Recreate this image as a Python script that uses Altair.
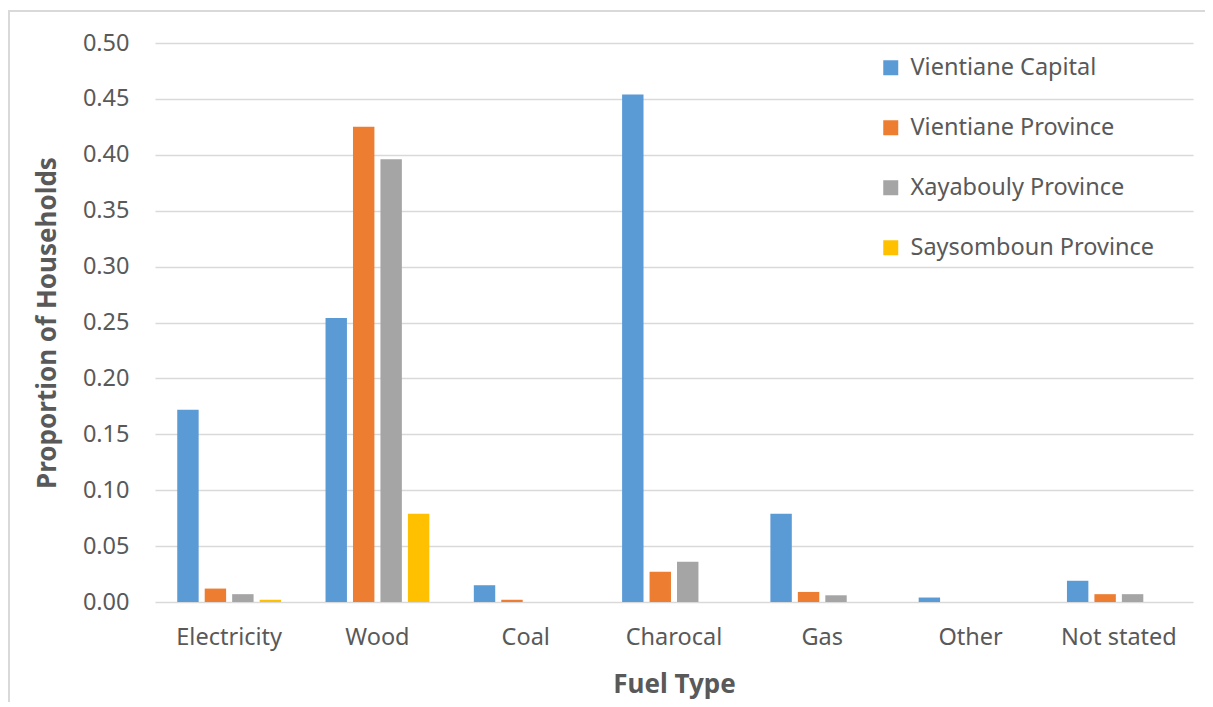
import altair as alt
import pandas as pd

categories = ["Electricity", "Wood", "Coal", "Charocal", "Gas", "Other", "Not stated"]
series = ["Vientiane Capital", "Vientiane Province", "Xayabouly Province", "Saysomboun Province"]
vientiane_capital = [0.172, 0.254, 0.015, 0.454, 0.079, 0.004, 0.019]
vientiane_province = [0.012, 0.425, 0.002, 0.027, 0.009, 0.0, 0.007]
xayabouly_province = [0.007, 0.396, 0.0, 0.036, 0.006, 0.0, 0.007]
saysomboun_province = [0.002, 0.079, 0.0, 0.0, 0.0, 0.0, 0.0]
colors = ["#5B9BD5", "#ED7D31", "#A5A5A5", "#FFC000"]
y_ticks = [0.0, 0.05, 0.10, 0.15, 0.20, 0.25, 0.30, 0.35, 0.40, 0.45, 0.50]

rows = []
for s, vals in zip(series, [vientiane_capital, vientiane_province, xayabouly_province, saysomboun_province]):
    for c, v in zip(categories, vals):
        rows.append({"Fuel": c, "Region": s, "Value": v})
df = pd.DataFrame(rows)

FONT = "Noto Sans"
TXT = "#595959"

bars = alt.Chart(df).mark_bar().encode(
    x=alt.X("Fuel:N", sort=categories,
            scale=alt.Scale(paddingInner=0.3, paddingOuter=0.15),
            axis=alt.Axis(title="Fuel Type", labelAngle=0, labelFontSize=23.5, labelColor=TXT,
                          labelFont=FONT, labelPadding=23, ticks=False, domain=False,
                          titleFontSize=26, titleFont=FONT, titleColor=TXT, titleFontWeight="bold",
                          titlePadding=23, grid=False)),
    xOffset=alt.XOffset("Region:N", sort=series, scale=alt.Scale(paddingInner=0.22)),
    y=alt.Y("Value:Q", scale=alt.Scale(domain=[0, 0.5], nice=False),
            axis=alt.Axis(title="Proportion of Households", values=y_ticks, format=".2f",
                          labelFontSize=23.5, labelColor=TXT, labelFont=FONT, labelPadding=26,
                          ticks=False, domain=False, grid=True, gridColor="#d9d9d9", gridWidth=1.5,
                          titleFontSize=26, titleFont=FONT, titleColor=TXT, titleFontWeight="bold",
                          titlePadding=22)),
    color=alt.Color("Region:N", sort=series,
                    scale=alt.Scale(domain=series, range=colors),
                    legend=alt.Legend(title=None, orient="none", legendX=724, legendY=13,
                                      symbolType="square", symbolSize=225, symbolStrokeWidth=0,
                                      labelFontSize=23.5, labelFont=FONT, labelColor=TXT,
                                      labelLimit=400, rowPadding=35, labelOffset=8, padding=0,
                                      direction="vertical")),
)

border = alt.Chart(pd.DataFrame({"k": [0]})).mark_rect(fill=None, stroke="#d9d9d9", strokeWidth=2).encode(
    x=alt.value(-146), x2=alt.value(1080), y=alt.value(-32), y2=alt.value(700)
)

chart = alt.layer(border, bars).properties(
    width=1038, height=559,
    autosize=alt.AutoSizeParams(type="none"),
    padding={"left": 147, "top": 35, "right": 12, "bottom": 100},
    background="white",
).configure_view(stroke=None)

chart.save("out.html", embed_options={"renderer": "svg", "actions": False})
